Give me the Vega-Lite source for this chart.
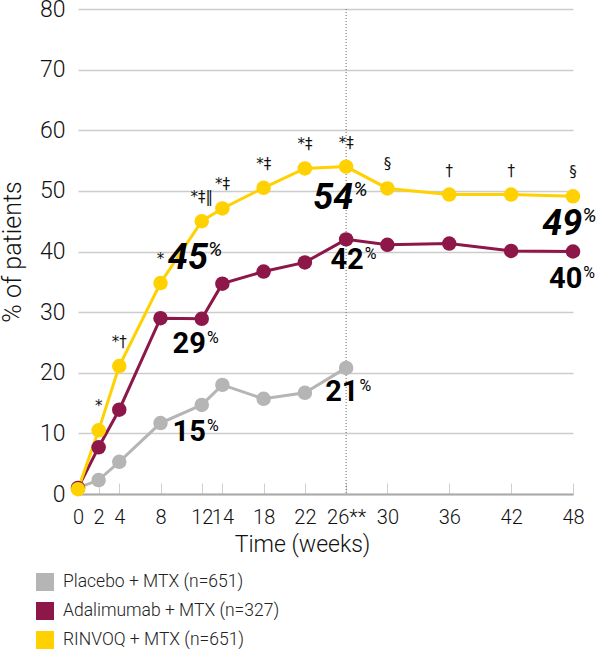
{
  "$schema": "https://vega.github.io/schema/vega-lite/v6.json",
  "autosize": "none",
  "width": 495,
  "height": 485,
  "padding": {"left": 78, "top": 9, "right": 25, "bottom": 156},
  "background": "white",
  "config": {
    "font": "Roboto",
    "view": {"stroke": null},
    "axis": {"labelFont": "Roboto", "titleFont": "Roboto", "labelFontWeight": 300, "titleFontWeight": 300, "labelColor": "#111", "titleColor": "#111"}
  },
  "datasets": {
    "series": [
      {"arm": "Placebo + MTX (n=651)", "wk": 0, "val": 1},
      {"arm": "Placebo + MTX (n=651)", "wk": 2, "val": 2.3},
      {"arm": "Placebo + MTX (n=651)", "wk": 4, "val": 5.3},
      {"arm": "Placebo + MTX (n=651)", "wk": 8, "val": 11.7},
      {"arm": "Placebo + MTX (n=651)", "wk": 12, "val": 14.7},
      {"arm": "Placebo + MTX (n=651)", "wk": 14, "val": 18},
      {"arm": "Placebo + MTX (n=651)", "wk": 18, "val": 15.7},
      {"arm": "Placebo + MTX (n=651)", "wk": 22, "val": 16.7},
      {"arm": "Placebo + MTX (n=651)", "wk": 26, "val": 20.8},
      {"arm": "Adalimumab + MTX (n=327)", "wk": 0, "val": 1},
      {"arm": "Adalimumab + MTX (n=327)", "wk": 2, "val": 7.7},
      {"arm": "Adalimumab + MTX (n=327)", "wk": 4, "val": 13.9},
      {"arm": "Adalimumab + MTX (n=327)", "wk": 8, "val": 29},
      {"arm": "Adalimumab + MTX (n=327)", "wk": 12, "val": 28.9},
      {"arm": "Adalimumab + MTX (n=327)", "wk": 14, "val": 34.7},
      {"arm": "Adalimumab + MTX (n=327)", "wk": 18, "val": 36.7},
      {"arm": "Adalimumab + MTX (n=327)", "wk": 22, "val": 38.2},
      {"arm": "Adalimumab + MTX (n=327)", "wk": 26, "val": 42},
      {"arm": "Adalimumab + MTX (n=327)", "wk": 30, "val": 41.1},
      {"arm": "Adalimumab + MTX (n=327)", "wk": 36, "val": 41.3},
      {"arm": "Adalimumab + MTX (n=327)", "wk": 42, "val": 40.1},
      {"arm": "Adalimumab + MTX (n=327)", "wk": 48, "val": 40},
      {"arm": "RINVOQ + MTX (n=651)", "wk": 0, "val": 0.8},
      {"arm": "RINVOQ + MTX (n=651)", "wk": 2, "val": 10.5},
      {"arm": "RINVOQ + MTX (n=651)", "wk": 4, "val": 21.1},
      {"arm": "RINVOQ + MTX (n=651)", "wk": 8, "val": 34.8},
      {"arm": "RINVOQ + MTX (n=651)", "wk": 12, "val": 45},
      {"arm": "RINVOQ + MTX (n=651)", "wk": 14, "val": 47.1},
      {"arm": "RINVOQ + MTX (n=651)", "wk": 18, "val": 50.5},
      {"arm": "RINVOQ + MTX (n=651)", "wk": 22, "val": 53.7},
      {"arm": "RINVOQ + MTX (n=651)", "wk": 26, "val": 54},
      {"arm": "RINVOQ + MTX (n=651)", "wk": 30, "val": 50.4},
      {"arm": "RINVOQ + MTX (n=651)", "wk": 36, "val": 49.4},
      {"arm": "RINVOQ + MTX (n=651)", "wk": 42, "val": 49.4},
      {"arm": "RINVOQ + MTX (n=651)", "wk": 48, "val": 49.1}
    ],
    "signif": [
      {"wk": 2, "val": 10.5, "sym": "*"},
      {"wk": 4, "val": 21.1, "sym": "*†"},
      {"wk": 8, "val": 34.8, "sym": "*"},
      {"wk": 12, "val": 45, "sym": "*‡‖"},
      {"wk": 14, "val": 47.1, "sym": "*‡"},
      {"wk": 18, "val": 50.5, "sym": "*‡"},
      {"wk": 22, "val": 53.7, "sym": "*‡"},
      {"wk": 26, "val": 54, "sym": "*‡"},
      {"wk": 30, "val": 50.4, "sym": "§"},
      {"wk": 36, "val": 49.4, "sym": "†"},
      {"wk": 42, "val": 49.4, "sym": "†"},
      {"wk": 48, "val": 49.1, "sym": "§"}
    ],
    "callouts": [
      {"kind": "script", "wk": 12.6, "val": 38.9, "num": "45"},
      {"kind": "script", "wk": 26.7, "val": 48.8, "num": "54"},
      {"kind": "script", "wk": 48.9, "val": 44.5, "num": "49"},
      {"kind": "bold", "wk": 27.7, "val": 38.6, "num": "42"},
      {"kind": "bold", "wk": 48.9, "val": 35.4, "num": "40"},
      {"kind": "bold", "wk": 12.4, "val": 24.7, "num": "29"},
      {"kind": "bold", "wk": 27.2, "val": 16.8, "num": "21"},
      {"kind": "bold", "wk": 12.4, "val": 10.2, "num": "15"}
    ]
  },
  "layer": [
    {
      "data": {"values": [{"wk": 26}]},
      "mark": {"type": "rule", "color": "#666", "strokeDash": [1, 2], "strokeWidth": 1, "y": 0},
      "encoding": {
        "x": {"field": "wk", "type": "quantitative", "scale": {"domain": [0, 48]}}
      }
    },
    {
      "data": {"name": "series"},
      "mark": {"type": "line", "strokeWidth": 3},
      "encoding": {
        "x": {
          "field": "wk",
          "type": "quantitative",
          "title": "Time (weeks)",
          "scale": {"domain": [0, 48], "nice": false},
          "axis": {
            "values": [0, 2, 4, 8, 12, 14, 18, 22, 26, 30, 36, 42, 48],
            "labelExpr": "datum.value == 26 ? '26**' : datum.label",
            "labelFontSize": 20,
            "labelPadding": 24,
            "labelFlush": false,
            "labelOverlap": false,
            "tickSize": -11,
            "tickColor": "#cfcfcf",
            "tickWidth": 1,
            "domainColor": "#aaa",
            "domainWidth": 2,
            "grid": false,
            "titleFontSize": 23,
            "titlePadding": 6,
            "titleX": 224,
            "titleAnchor": null
          }
        },
        "y": {
          "field": "val",
          "type": "quantitative",
          "title": "% of patients",
          "scale": {"domain": [0, 80], "nice": false},
          "axis": {
            "values": [0, 10, 20, 30, 40, 50, 60, 70, 80],
            "labelFontSize": 23,
            "labelPadding": 13,
            "ticks": false,
            "domain": false,
            "grid": true,
            "gridColor": "#cccccc",
            "gridWidth": 1.5,
            "titleFontSize": 25,
            "titlePadding": 14
          }
        },
        "color": {
          "field": "arm",
          "type": "nominal",
          "sort": ["Placebo + MTX (n=651)", "Adalimumab + MTX (n=327)", "RINVOQ + MTX (n=651)"],
          "scale": {
            "domain": ["Placebo + MTX (n=651)", "Adalimumab + MTX (n=327)", "RINVOQ + MTX (n=651)"],
            "range": ["#b5b5b5", "#8c1748", "#ffd100"]
          },
          "legend": {
            "title": null,
            "orient": "none",
            "legendX": -42,
            "legendY": 564,
            "symbolType": "square",
            "symbolSize": 324,
            "symbolStrokeWidth": 0,
            "symbolOpacity": 1,
            "labelFont": "Roboto",
            "labelFontWeight": 300,
            "labelFontSize": 17.5,
            "labelColor": "#222",
            "labelOffset": 9,
            "labelLimit": 400,
            "rowPadding": 11
          }
        }
      }
    },
    {
      "data": {"name": "series"},
      "mark": {"type": "point", "filled": true, "opacity": 1, "size": 210},
      "encoding": {
        "x": {"field": "wk", "type": "quantitative"},
        "y": {"field": "val", "type": "quantitative"},
        "color": {"field": "arm", "type": "nominal"}
      }
    },
    {
      "data": {"name": "signif"},
      "mark": {"type": "text", "fontSize": 15, "dy": -24, "color": "#111", "font": "DejaVu Sans"},
      "encoding": {
        "x": {"field": "wk", "type": "quantitative"},
        "y": {"field": "val", "type": "quantitative"},
        "text": {"field": "sym"}
      }
    },
    {
      "data": {"name": "callouts"},
      "transform": [{"filter": "datum.kind == 'bold'"}],
      "layer": [
        {
          "mark": {"type": "text", "align": "right", "baseline": "middle", "fontSize": 29, "fontWeight": "bold", "font": "Roboto", "color": "#000"},
          "encoding": {
            "x": {"field": "wk", "type": "quantitative"},
            "y": {"field": "val", "type": "quantitative"},
            "text": {"field": "num"}
          }
        },
        {
          "mark": {"type": "text", "align": "left", "baseline": "middle", "fontSize": 16, "dx": 1, "dy": -6, "font": "Roboto", "color": "#000"},
          "encoding": {
            "x": {"field": "wk", "type": "quantitative"},
            "y": {"field": "val", "type": "quantitative"},
            "text": {"value": "%"}
          }
        }
      ]
    },
    {
      "data": {"name": "callouts"},
      "transform": [{"filter": "datum.kind == 'script'"}],
      "layer": [
        {
          "mark": {"type": "text", "align": "right", "baseline": "middle", "fontSize": 36, "fontWeight": "bold", "fontStyle": "italic", "font": "Roboto", "color": "#000"},
          "encoding": {
            "x": {"field": "wk", "type": "quantitative"},
            "y": {"field": "val", "type": "quantitative"},
            "text": {"field": "num"}
          }
        },
        {
          "mark": {"type": "text", "align": "left", "baseline": "middle", "fontSize": 20, "fontStyle": "italic", "dx": 0, "dy": -8, "font": "Roboto", "color": "#000"},
          "encoding": {
            "x": {"field": "wk", "type": "quantitative"},
            "y": {"field": "val", "type": "quantitative"},
            "text": {"value": "%"}
          }
        }
      ]
    }
  ]
}
